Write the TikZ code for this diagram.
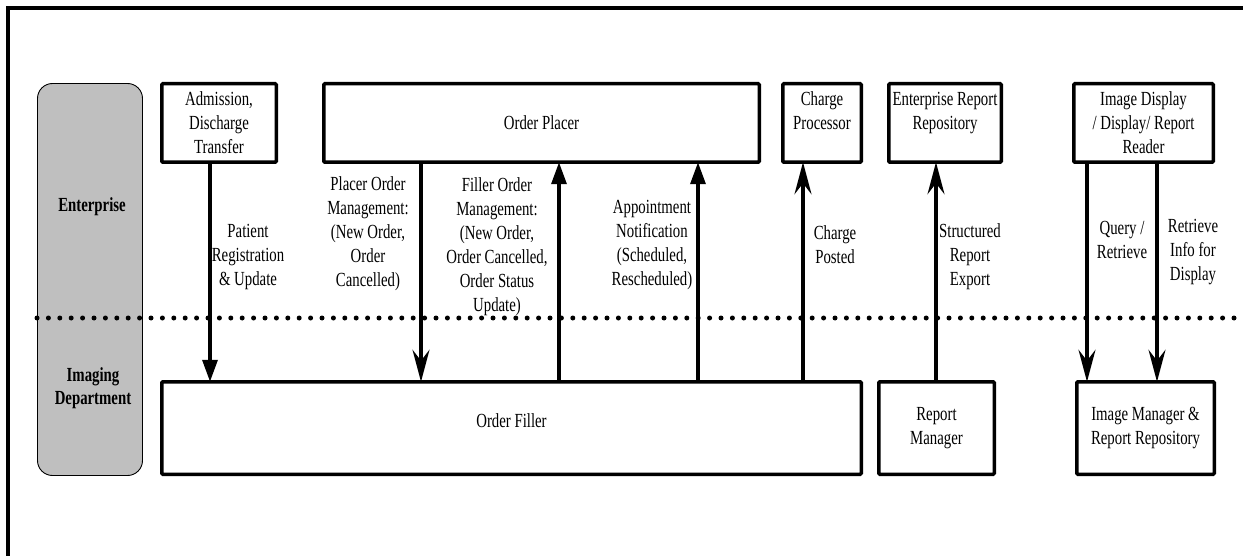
\documentclass[tikz,border=0pt]{standalone}
\usepackage{fontspec}
\setmainfont{Liberation Serif}[FakeStretch=0.74]
\usetikzlibrary{arrows.meta}

\begin{document}
\begin{tikzpicture}[x=1pt,y=-1pt,
  every node/.style={font=\fontsize{20}{24}\selectfont, align=center, inner sep=0pt, outer sep=0pt},
  actor/.style={draw, line width=3.5pt, rounded corners=1pt, fill=white},
  lane/.style={draw, line width=0.9pt, fill=black!25, rounded corners=15pt},
  lanetext/.style={font=\bfseries\fontsize{20}{23}\selectfont},
  msg/.style={font=\fontsize{20}{24}\selectfont},
  fillarrow/.style={line width=3.4pt, -{Triangle[length=22pt,width=15pt]}},
  thinarrow/.style={line width=3.2pt, -{Stealth[length=32pt,width=17pt,inset=11pt]}},
  border/.style={line width=4pt},
  divider/.style={line width=5pt, line cap=round, dash pattern=on 0pt off 11.4pt}
]
\useasboundingbox (0,0) rectangle (1243,556);

% frame
\draw[border] (8,556) -- (8,8) -- (1243,8);

% swim lane column
\node[lane, minimum width=105, minimum height=392] (lane) at (90,279.5) {};
\node[lanetext] (ent) at (92,207) {Enterprise};
\node[lanetext] (img) at (93,388) {Imaging\\Department};

% boundary between enterprise and department
\draw[divider] (37,318) -- (1243,318);

% enterprise actors
\node[actor, minimum width=114.5, minimum height=78.5] (adt) at (219,123) {Admission,\\Discharge\\Transfer};
\node[actor, minimum width=435.5, minimum height=78.5] (placer) at (541.5,123) {Order Placer};
\node[actor, minimum width=78.5, minimum height=78.5] (charge) at (822,123) {Charge\\Processor\\\mbox{}};
\node[actor, minimum width=112.5, minimum height=78.5] (err) at (945,123) {Enterprise Report\\Repository\\\mbox{}};
\node[actor, minimum width=139.5, minimum height=78.5] (disp) at (1143.5,123) {Image Display\\/ Display/ Report\\Reader};

% imaging department actors
\node[actor, minimum width=699.5, minimum height=92.5] (filler) at (511.5,428) {};
\node (fillertext) at (511.5,421) {Order Filler};
\node[actor, minimum width=115.5, minimum height=92.5] (rm) at (936.5,428) {Report\\Manager};
\node[actor, minimum width=137.5, minimum height=92.5] (imgr) at (1145.5,428) {Image Manager \&\\Report Repository};

% transactions
\draw[fillarrow] (210,0 |- adt.south) -- (210,0 |- filler.north);
\draw[thinarrow] (421,0 |- placer.south) -- (421,0 |- filler.north);
\draw[fillarrow] (559,0 |- filler.north) -- (559,0 |- placer.south);
\draw[fillarrow] (698,0 |- filler.north) -- (698,0 |- placer.south);
\draw[thinarrow] (803,0 |- filler.north) -- (803,0 |- charge.south);
\draw[thinarrow] (936,0 |- rm.north) -- (936,0 |- err.south);
\draw[thinarrow] (1087,0 |- disp.south) -- (1087,0 |- imgr.north);
\draw[thinarrow] (1157,0 |- disp.south) -- (1157,0 |- imgr.north);

% transaction labels
\node[msg] (l1) at (248,257) {Patient\\Registration\\\& Update};
\node[msg] (l2) at (368,234) {Placer Order\\Management:\\(New Order,\\Order\\Cancelled)};
\node[msg] (l3) at (497,247) {Filler Order\\Management:\\(New Order,\\Order Cancelled,\\Order Status\\Update)};
\node[msg] (l4) at (652,245) {Appointment\\Notification\\(Scheduled,\\Rescheduled)};
\node[msg] (l5) at (835,245) {Charge\\Posted};
\node[msg] (l6) at (970,257) {Structured\\Report\\Export};
\node[msg] (l7) at (1122,240) {Query /\\Retrieve};
\node[msg] (l8) at (1193,252) {Retrieve\\Info for\\Display};
\end{tikzpicture}
\end{document}
